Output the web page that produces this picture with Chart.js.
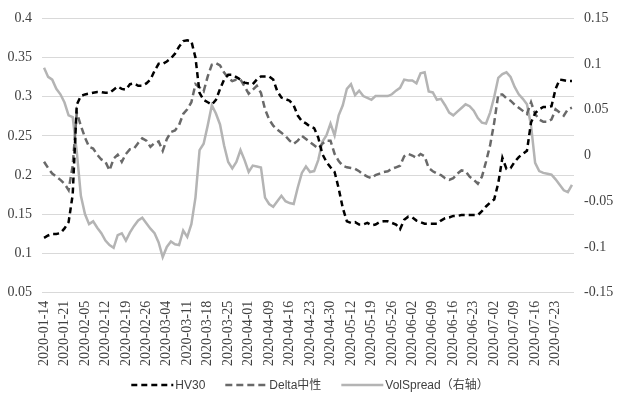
<!DOCTYPE html>
<html>
<head>
<meta charset="utf-8">
<script src="https://cdn.jsdelivr.net/npm/chart.js@4/dist/chart.umd.min.js"></script>
<style>
  body { margin: 0; background: #fff; }
  #box { width: 620px; height: 398px; position: relative; }
</style>
</head>
<body>
<div id="box"><canvas id="grafico"></canvas></div>
<script>
// rotulos do eixo x (um a cada 5 pregoes)
const rotulosEixo = [
    '2020-01-14', '2020-01-21', '2020-02-05', '2020-02-12', '2020-02-19', '2020-02-26',
    '2020-03-04', '2020-03-11', '2020-03-18', '2020-03-25', '2020-04-01', '2020-04-09',
    '2020-04-16', '2020-04-23', '2020-04-30', '2020-05-12', '2020-05-19', '2020-05-26',
    '2020-06-02', '2020-06-09', '2020-06-16', '2020-06-23', '2020-07-02', '2020-07-09',
    '2020-07-16', '2020-07-23'
];

const hv30 = [
    0.120, 0.123, 0.125, 0.125, 0.126, 0.132, 0.140, 0.175, 0.290, 0.301,
    0.303, 0.304, 0.305, 0.306, 0.306, 0.305, 0.305, 0.309, 0.313, 0.310,
    0.309, 0.316, 0.317, 0.314, 0.314, 0.317, 0.322, 0.333, 0.342, 0.342,
    0.345, 0.349, 0.355, 0.364, 0.371, 0.372, 0.371, 0.350, 0.305, 0.296,
    0.293, 0.290, 0.296, 0.310, 0.322, 0.328, 0.328, 0.325, 0.322, 0.318,
    0.317, 0.316, 0.322, 0.326, 0.326, 0.326, 0.322, 0.307, 0.299, 0.297,
    0.295, 0.289, 0.276, 0.269, 0.266, 0.262, 0.260, 0.248, 0.227, 0.217,
    0.210, 0.204, 0.183, 0.158, 0.141, 0.139, 0.140, 0.137, 0.137, 0.139,
    0.136, 0.137, 0.140, 0.141, 0.141, 0.139, 0.137, 0.131, 0.143, 0.147,
    0.146, 0.142, 0.140, 0.138, 0.138, 0.138, 0.138, 0.142, 0.145, 0.146,
    0.148, 0.148, 0.149, 0.149, 0.149, 0.149, 0.149, 0.154, 0.160, 0.165,
    0.169, 0.190, 0.222, 0.208, 0.209, 0.217, 0.223, 0.227, 0.231, 0.267,
    0.279, 0.284, 0.287, 0.287, 0.288, 0.310, 0.322, 0.321, 0.320, 0.320
];

const deltaNeutro = [
    0.217, 0.209, 0.202, 0.198, 0.194, 0.189, 0.181, 0.212, 0.280, 0.263,
    0.248, 0.236, 0.234, 0.226, 0.220, 0.217, 0.206, 0.221, 0.226, 0.217,
    0.227, 0.233, 0.234, 0.241, 0.247, 0.244, 0.236, 0.241, 0.243, 0.231,
    0.246, 0.255, 0.257, 0.264, 0.278, 0.284, 0.293, 0.316, 0.312, 0.307,
    0.326, 0.341, 0.343, 0.340, 0.331, 0.324, 0.320, 0.322, 0.322, 0.313,
    0.304, 0.309, 0.314, 0.305, 0.284, 0.271, 0.263, 0.258, 0.254, 0.250,
    0.244, 0.240, 0.244, 0.250, 0.246, 0.242, 0.238, 0.234, 0.240, 0.244,
    0.244, 0.227, 0.218, 0.212, 0.210, 0.209, 0.208, 0.205, 0.201, 0.198,
    0.196, 0.200, 0.202, 0.204, 0.205, 0.208, 0.210, 0.212, 0.224, 0.227,
    0.225, 0.222, 0.227, 0.224, 0.209, 0.205, 0.202, 0.200, 0.196, 0.194,
    0.196, 0.202, 0.206, 0.205, 0.198, 0.194, 0.189, 0.198, 0.217, 0.238,
    0.267, 0.303, 0.303, 0.298, 0.295, 0.290, 0.286, 0.282, 0.278, 0.293,
    0.278, 0.271, 0.268, 0.268, 0.271, 0.284, 0.280, 0.276, 0.284, 0.286
];

// eixo da direita
const volSpread = [
    0.096, 0.086, 0.083, 0.073, 0.067, 0.058, 0.044, 0.042, 0.004, -0.044,
    -0.064, -0.075, -0.072, -0.079, -0.085, -0.093, -0.098, -0.101, -0.087, -0.085,
    -0.093, -0.084, -0.077, -0.071, -0.068, -0.074, -0.080, -0.085, -0.095, -0.111,
    -0.100, -0.094, -0.097, -0.098, -0.082, -0.089, -0.075, -0.046, 0.006, 0.013,
    0.033, 0.055, 0.046, 0.034, 0.011, -0.007, -0.014, -0.007, 0.006, -0.005,
    -0.018, -0.011, -0.012, -0.013, -0.046, -0.053, -0.056, -0.050, -0.044, -0.050,
    -0.052, -0.053, -0.035, -0.019, -0.012, -0.018, -0.017, -0.005, 0.015, 0.022,
    0.035, 0.022, 0.044, 0.055, 0.073, 0.078, 0.066, 0.071, 0.065, 0.063,
    0.061, 0.065, 0.065, 0.065, 0.065, 0.067, 0.071, 0.074, 0.083, 0.082,
    0.082, 0.079, 0.090, 0.091, 0.070, 0.069, 0.061, 0.062, 0.055, 0.047,
    0.044, 0.048, 0.052, 0.056, 0.054, 0.049, 0.041, 0.036, 0.035, 0.047,
    0.064, 0.085, 0.089, 0.091, 0.086, 0.075, 0.067, 0.062, 0.056, 0.033,
    -0.008, -0.017, -0.019, -0.020, -0.021, -0.026, -0.032, -0.038, -0.040, -0.032
];

// um rotulo a cada 5 pontos, o resto fica vazio
const categorias = hv30.map((_, i) => (i % 5 === 0 ? rotulosEixo[i / 5] : ''));

const fonteEixo = { family: 'Liberation Serif', size: 14 };
const fonteLegenda = "12px 'Liberation Sans', 'Noto Sans CJK SC'";

// legenda desenhada a mao, com o tracejado de cada serie
const legendaManual = {
    id: 'legendaManual',
    afterDraw(chart) {
        const c = chart.ctx;
        const conjuntos = chart.data.datasets;
        const amostra = 42, folga = 2, espaco = 20;
        c.save();
        c.font = fonteLegenda;
        const larguras = conjuntos.map(d => c.measureText(d.label).width);
        const total = larguras.reduce((s, w) => s + amostra + folga + w, 0) + espaco * (conjuntos.length - 1);
        let x = (chart.width - total) / 2;
        const y = 385;
        conjuntos.forEach((d, i) => {
            c.beginPath();
            c.strokeStyle = d.borderColor;
            c.lineWidth = d.borderWidth;
            c.setLineDash(d.borderDash || []);
            c.moveTo(x, y);
            c.lineTo(x + amostra, y);
            c.stroke();
            c.setLineDash([]);
            c.fillStyle = '#404040';
            c.textBaseline = 'middle';
            c.fillText(d.label, x + amostra + folga, y + 1);
            x += amostra + folga + larguras[i] + espaco;
        });
        c.restore();
    }
};

const ctx = document.getElementById('grafico').getContext('2d');
const grafico = new Chart(ctx, {
    type: 'line',
    data: {
        labels: categorias,
        datasets: [{
            label: 'HV30',
            data: hv30,
            yAxisID: 'y',
            borderColor: '#000000',
            borderWidth: 2.5,
            borderDash: [6, 4],
            pointRadius: 0,
            tension: 0
        }, {
            label: 'Delta中性',
            data: deltaNeutro,
            yAxisID: 'y',
            borderColor: '#696969',
            borderWidth: 2.5,
            borderDash: [7, 4],
            pointRadius: 0,
            tension: 0
        }, {
            label: 'VolSpread（右轴）',
            data: volSpread,
            yAxisID: 'y2',
            borderColor: '#b4b4b4',
            borderWidth: 2.5,
            pointRadius: 0,
            tension: 0
        }]
    },
    plugins: [legendaManual],
    options: {
        responsive: true,
        maintainAspectRatio: false,
        animation: false,
        layout: { padding: { left: 0, right: 0, top: 4, bottom: 32 } },
        plugins: {
            tooltip: { enabled: false },
            legend: { display: false }
        },
        scales: {
            x: {
                offset: true,
                grid: { display: false },
                border: { display: false },
                afterFit: (eixo) => { eixo.paddingLeft = 0; eixo.paddingRight = 0; },
                ticks: {
                    autoSkip: false,
                    minRotation: 90,
                    maxRotation: 90,
                    padding: 0,
                    color: '#404040',
                    font: fonteEixo,
                    callback: function (valor) {
                        const txt = this.getLabelForValue(valor);
                        return txt ? txt : null;
                    }
                }
            },
            y: {
                position: 'left',
                min: 0.05,
                max: 0.4,
                afterFit: (eixo) => { eixo.width = 42; },
                grid: { color: '#d9d9d9', drawTicks: false },
                border: { display: false },
                ticks: {
                    stepSize: 0.05,
                    padding: 10,
                    color: '#404040',
                    font: fonteEixo,
                    callback: (v) => String(+v.toFixed(2))
                }
            },
            y2: {
                position: 'right',
                min: -0.15,
                max: 0.15,
                afterFit: (eixo) => { eixo.width = 46; },
                grid: { drawOnChartArea: false, drawTicks: false },
                border: { display: false },
                ticks: {
                    stepSize: 0.05,
                    padding: 10,
                    color: '#404040',
                    font: fonteEixo,
                    callback: (v) => String(+v.toFixed(2))
                }
            }
        }
    }
});
</script>
</body>
</html>
